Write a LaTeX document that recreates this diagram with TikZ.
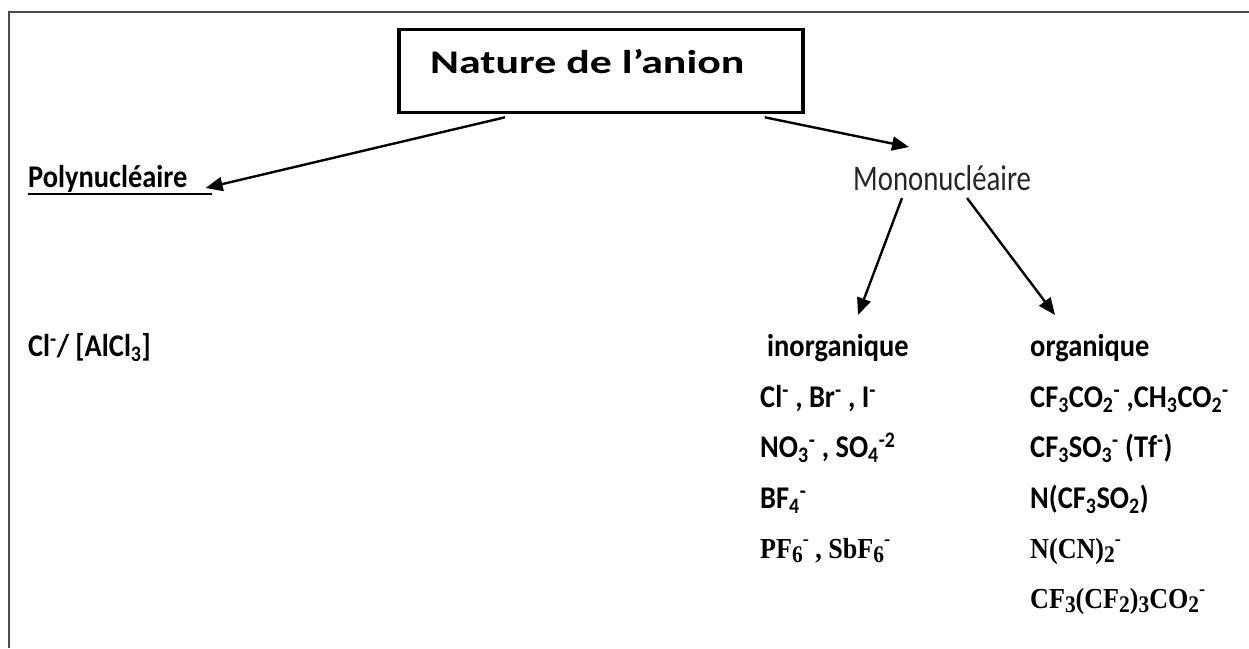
\documentclass[tikz,border=0pt]{standalone}
\usepackage{fontspec}
\usepackage{graphicx}
\setmainfont{Carlito}
\newfontfamily\headfont{Carlito}[FakeStretch=1.33]
\newfontfamily\bodyfont{Carlito}[FakeStretch=0.9]
\newfontfamily\nucfont{Carlito}[FakeStretch=0.8]
\newfontfamily\serifbold{Liberation Serif}[FakeStretch=0.9]
\usetikzlibrary{arrows.meta}
% lowered / raised indices for the serif formulas
\newcommand\tsub[1]{\raisebox{-0.35ex}{\scalebox{0.82}{#1}}}
\newcommand\tsup[1]{\raisebox{0.95ex}{\scalebox{0.7}{#1}}}
\begin{document}
\begin{tikzpicture}[x=1pt,y=-1pt,
  txt/.style={inner sep=0pt, anchor=base west, font=\bodyfont\bfseries\fontsize{31.6}{36}\selectfont},
  tms/.style={inner sep=0pt, anchor=base west, font=\serifbold\bfseries\fontsize{29}{34}\selectfont},
  arr/.style={line width=2.4pt, -{Triangle[length=17pt,width=14pt]}}]
\useasboundingbox (0,0) rectangle (1249,648);
% open page frame
\draw[line width=2.2pt, black!70] (9,648) -- (9,12) -- (1249,12);

% title box
\node[draw, line width=3.8pt, minimum width=404pt, minimum height=83pt, inner sep=0pt, anchor=north west] (box) at (397,27.5) {};
\node[anchor=base west, inner sep=0pt, font=\headfont\bfseries\fontsize{33}{40}\selectfont] (title) at (430,73) {Nature de l’anion};

% first level
\node[txt] (poly) at (28,187) {Polynucléaire};
\draw[line width=2.2pt] ([yshift=-7pt]poly.base west) -- ++(184,0);
\node[anchor=base west, inner sep=0pt, text=black!85, font=\nucfont\fontsize{36}{40}\selectfont] (mono) at (853,190) {Mononucléaire};

\node[txt] (chloro) at (28,356) {Cl\textsuperscript{-}/ [AlCl\textsubscript{3}]};

% second level
\node[txt] (inorg) at (767,356) {inorganique};
\node[txt] (i1) at (760,407) {Cl\textsuperscript{-} , Br\textsuperscript{-} , I\textsuperscript{-}};
\node[txt] (i2) at (760,457) {NO\textsubscript{3}\textsuperscript{-} , SO\textsubscript{4}\textsuperscript{-2}};
\node[txt] (i3) at (760,508) {BF\textsubscript{4}\textsuperscript{-}};
\node[tms] (i4) at (760,558) {PF\tsub{6}\tsup{-} , SbF\tsub{6}\tsup{-}};

\node[txt] (org) at (1030,356) {organique};
\node[txt] (o1) at (1030,407) {CF\textsubscript{3}CO\textsubscript{2}\textsuperscript{-} ,CH\textsubscript{3}CO\textsubscript{2}\textsuperscript{-}};
\node[txt] (o2) at (1030,457) {CF\textsubscript{3}SO\textsubscript{3}\textsuperscript{-} (Tf\textsuperscript{-})};
\node[txt] (o3) at (1030,508) {N(CF\textsubscript{3}SO\textsubscript{2})};
\node[tms] (o4) at (1030,558) {N(CN)\tsub{2}\tsup{-}};
\node[tms] (o5) at (1030,608) {CF\tsub{3}(CF\tsub{2})\tsub{3}CO\tsub{2}\tsup{-}};

% connectors
\draw[arr] ([xshift=108pt,yshift=-3pt]box.south west) -- ([xshift=18pt,yshift=-1pt]poly.base east);
\draw[arr] ([xshift=-40pt,yshift=-3pt]box.south east) -- ([xshift=56pt,yshift=43pt]mono.base west);
\draw[arr] ([xshift=49pt,yshift=-8pt]mono.base west) -- ([xshift=91pt,yshift=41pt]inorg.base west);
\draw[arr] ([xshift=114pt,yshift=-8pt]mono.base west) -- ([xshift=25pt,yshift=41pt]org.base west);
\end{tikzpicture}
\end{document}
